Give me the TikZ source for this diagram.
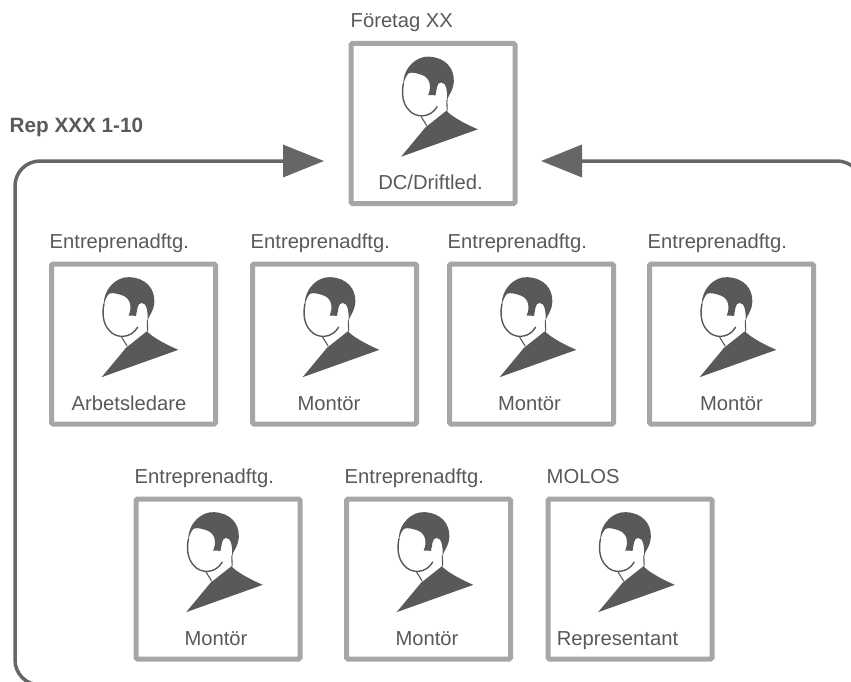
\documentclass[tikz,border=0pt]{standalone}
\usepackage{fontspec}
\setmainfont{Liberation Sans}
\usetikzlibrary{arrows.meta,calc}
\definecolor{boxgray}{HTML}{A6A6A6}
\definecolor{inkgray}{HTML}{595959}
\definecolor{linegray}{HTML}{666666}
\tikzset{
  x=1pt,y=-1pt,
  box/.style={draw=boxgray,line width=5pt,fill=white,rounded corners=1.5pt,minimum width=164pt,minimum height=160pt,inner sep=0pt,anchor=north west},
  captext/.style={text=inkgray,font=\fontsize{20.2}{22}\selectfont,anchor=base west,inner sep=0pt},
  role/.style={text=inkgray,font=\fontsize{20.2}{22}\selectfont,anchor=base,inner sep=0pt},
  flow/.style={draw=linegray,line width=3.5pt,rounded corners=25pt,-{Triangle[length=41pt,width=32pt]}},
  person/.pic={
    \begin{scope}[x=0.3333pt,y=-0.3333pt]
      \fill[inkgray] (32,320) -- (105,232) -- (168,182) .. controls (178,195) and (215,218) .. (262,238) -- cycle;
      \fill[inkgray] (38,105) .. controls (38,50) and (80,18) .. (115,20)
        .. controls (165,22) and (192,55) .. (190,95)
        .. controls (188,125) and (172,135) .. (169,155)
        .. controls (172,128) and (168,97) .. (152,97)
        .. controls (138,97) and (139,120) .. (135,136)
        -- (113,135) .. controls (122,115) and (122,85) .. (95,75)
        .. controls (80,70) and (65,65) .. (54,70)
        .. controls (46,78) and (42,90) .. (38,105) -- cycle;
      \draw[inkgray,line width=1.4pt,line cap=round] (39,100) .. controls (33,125) and (35,160) .. (55,180)
        .. controls (75,205) and (120,205) .. (140,170);
      \draw[inkgray,line width=1.1pt,line cap=round] (92,200) -- (108,226);
      \draw[inkgray,line width=1.1pt] (169,150) -- (170,182);
    \end{scope}
  }
}
\begin{document}
\begin{tikzpicture}
\useasboundingbox (0,0) rectangle (851,682);
\fill[white] (0,0) rectangle (851,682);
\clip (0,0) rectangle (851,682);

% flow lines
\coordinate (lstart) at (60,685);
\coordinate (lbot) at (15,685);
\coordinate (ltop) at (15,161);
\coordinate (ltip) at (324,161);
\coordinate (rstart) at (862,220);
\coordinate (rtop) at (862,161);
\coordinate (rtip) at (541,161);
\draw[flow] (lstart) -- (lbot) -- (ltop) -- (ltip);
\draw[flow] (rstart) -- (rtop) -- (rtip);

\node[text=inkgray,font=\bfseries\fontsize{20.7}{22}\selectfont,anchor=base west,inner sep=0pt] (rep) at (9.5,132) {Rep XXX 1-10};

% boxes
\node[box] (b0) at (348.5,41) {};
\node[box] (b1) at (49,261.5) {};
\node[box] (b2) at (250,261.5) {};
\node[box] (b3) at (447,261.5) {};
\node[box] (b4) at (647,261.5) {};
\node[box] (b5) at (133.5,496.5) {};
\node[box] (b6) at (344,496.5) {};
\node[box] (b7) at (545.5,496.5) {};

\foreach \b in {b0,b1,b2,b3,b4,b5,b6,b7}
  \pic at ($(\b.north west)+(42,9)$) {person};

% captions
\node[captext] (c0) at (350.5,28) {Företag XX};
\node[captext] (c1) at (49.5,248) {Entreprenadftg.};
\node[captext] (c2) at (250.5,248) {Entreprenadftg.};
\node[captext] (c3) at (447.5,248) {Entreprenadftg.};
\node[captext] (c4) at (647.5,248) {Entreprenadftg.};
\node[captext] (c5) at (134.5,483) {Entreprenadftg.};
\node[captext] (c6) at (344.5,483) {Entreprenadftg.};
\node[captext] (c7) at (546.5,483) {MOLOS};

% roles
\node[role] (r0) at (430.5,189) {DC/Driftled.};
\node[role] (r1) at (129,410) {Arbetsledare};
\node[role] (r2) at (329,410) {Montör};
\node[role] (r3) at (529.5,410) {Montör};
\node[role] (r4) at (731.5,410) {Montör};
\node[role] (r5) at (216,645) {Montör};
\node[role] (r6) at (427,645) {Montör};
\node[role] (r7) at (617.5,645) {Representant};
\end{tikzpicture}
\end{document}
